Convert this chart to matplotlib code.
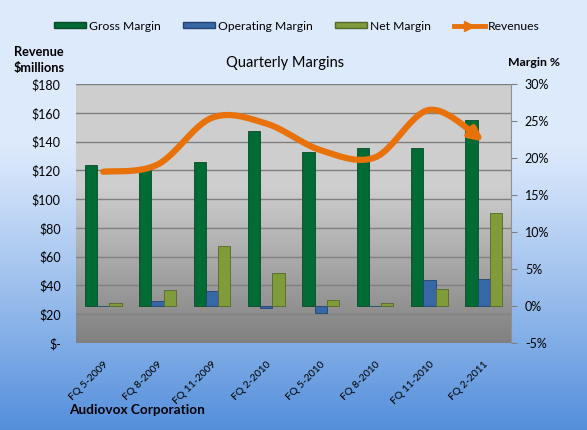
import numpy as np
import matplotlib
matplotlib.use("Agg")
import matplotlib.pyplot as plt
import matplotlib.transforms as mtransforms
from matplotlib.patches import Patch
from matplotlib.lines import Line2D

plt.rcParams['font.family'] = ['Lato', 'DejaVu Sans']

# data
quarters = ['FQ 5-2009', 'FQ 8-2009', 'FQ 11-2009', 'FQ 2-2010',
            'FQ 5-2010', 'FQ 8-2010', 'FQ 11-2010', 'FQ 2-2011']
gross_margin = [19.1, 18.8, 19.4, 23.6, 20.8, 21.3, 21.3, 25.1]
operating_margin = [0.05, 0.65, 2.0, -0.25, -1.0, 0.05, 3.5, 3.6]
net_margin = [0.35, 2.2, 8.1, 4.4, 0.75, 0.45, 2.35, 12.5]
revenues = [119, 124, 156.5, 152.5, 134, 129, 162, 140]

left_ticks = list(range(0, 181, 20))
left_labels = ['$-'] + ['$%d' % v for v in left_ticks[1:]]
right_ticks = list(range(-5, 31, 5))
right_labels = ['%d%%' % v for v in right_ticks]

c_gross = '#006b35'
c_oper = '#3767a5'
c_net = '#7f9b3a'
c_rev = '#e8710a'


def smooth(xs, ys, n=30):
    # Catmull-Rom style bezier, like Excel's smoothed line
    xs = np.asarray(xs, float)
    ys = np.asarray(ys, float)
    px = np.concatenate([[xs[0]], xs, [xs[-1]]])
    py = np.concatenate([[ys[0]], ys, [ys[-1]]])
    outx, outy = [], []
    t = np.linspace(0, 1, n)
    for i in range(1, len(px) - 2):
        p0 = np.array([px[i], py[i]])
        p3 = np.array([px[i + 1], py[i + 1]])
        c1 = p0 + (np.array([px[i + 1], py[i + 1]]) - np.array([px[i - 1], py[i - 1]])) / 6
        c2 = p3 - (np.array([px[i + 2], py[i + 2]]) - np.array([px[i], py[i]])) / 6
        for tt in t:
            b = ((1 - tt) ** 3) * p0 + 3 * ((1 - tt) ** 2) * tt * c1 \
                + 3 * (1 - tt) * tt ** 2 * c2 + tt ** 3 * p3
            outx.append(b[0])
            outy.append(b[1])
    return np.array(outx), np.array(outy)


fig = plt.figure(figsize=(5.87, 4.30), dpi=100)

# figure background gradient
bg = fig.add_axes([0, 0, 1, 1], zorder=-10)
grad = np.linspace(0, 1, 256).reshape(-1, 1)
top_c = np.array([0.87, 0.92, 0.99])
bot_c = np.array([0.33, 0.56, 0.86])
w = np.clip((grad - 0.33) / 0.67, 0, 1) ** 1.1
img = top_c * (1 - w[..., None]) + bot_c * w[..., None]
bg.imshow(img, aspect='auto', extent=[0, 1, 0, 1], origin='upper')
bg.set_xlim(0, 1)
bg.set_ylim(0, 1)
bg.axis('off')

ax = fig.add_axes([0.1295, 0.2023, 0.741, 0.6024])
ax2 = ax.twinx()
ax.set_zorder(2)
ax2.set_zorder(1)
ax.patch.set_visible(False)

# plot area gradient
g = np.linspace(0, 1, 256).reshape(-1, 1)
gw = np.clip((g - 0.4) / 0.6, 0, 1)
gray = 0.81 * (1 - gw) + 0.50 * gw
ax2.imshow(np.repeat(gray[..., None], 3, axis=2), aspect='auto',
           extent=[0, 1, 0, 1], origin='upper', transform=ax2.transAxes, zorder=0)

x = np.arange(len(quarters))
bw = 0.226
ax2.bar(x - bw, gross_margin, bw, color=c_gross, edgecolor='#0b4a26', linewidth=0.6, zorder=3)
ax2.bar(x, operating_margin, bw, color=c_oper, edgecolor='#23446e', linewidth=0.6, zorder=3)
ax2.bar(x + bw, net_margin, bw, color=c_net, edgecolor='#55672a', linewidth=0.6, zorder=3)

# gridlines on left-axis values, drawn behind the bars
trans = mtransforms.blended_transform_factory(ax2.transAxes, ax.transData)
for v in left_ticks[1:]:
    ax2.plot([0, 1], [v, v], color='#808080', lw=1.0, transform=trans, zorder=1)

ax.set_ylim(0, 180)
ax2.set_ylim(-5, 30)
ax.set_xlim(-0.5, len(quarters) - 0.5)

sx, sy = smooth(x, revenues)
ax.plot(sx[:-6], sy[:-6], color=c_rev, lw=4.5, solid_capstyle='round', zorder=5)
ax.annotate('', xy=(sx[-1], sy[-1]), xytext=(sx[-8], sy[-8]),
            arrowprops=dict(arrowstyle='-|>', color=c_rev, lw=4.5,
                            mutation_scale=18, shrinkA=0, shrinkB=0), zorder=6)

ax.set_yticks(left_ticks)
ax.set_yticklabels(left_labels, fontsize=9)
ax2.set_yticks(right_ticks)
ax2.set_yticklabels(right_labels, fontsize=9)
ax.set_xticks(x)
ax.set_xticklabels(quarters, rotation=45, ha='right', va='top',
                   rotation_mode='anchor', fontsize=7.5)
ax.tick_params(axis='x', length=0, pad=12)
ax.tick_params(axis='y', length=0, pad=11)
ax2.tick_params(axis='y', length=4, color='#808080', pad=6)

for s in ax.spines.values():
    s.set_visible(False)
for s in ax2.spines.values():
    s.set_visible(False)
ax2.spines['right'].set_visible(True)
ax2.spines['right'].set_color('#909090')

fig.text(285 / 587, 1 - 63 / 430, 'Quarterly Margins', ha='center', va='center', fontsize=10.5)
fig.text(14 / 587, 1 - 52 / 430, 'Revenue', ha='left', va='center', fontsize=9.2, fontweight='bold')
fig.text(14 / 587, 1 - 68 / 430, '$millions', ha='left', va='center', fontsize=9.2, fontweight='bold')
fig.text(508 / 587, 1 - 63 / 430, 'Margin %', ha='left', va='center', fontsize=8.8, fontweight='bold')
fig.text(69 / 587, 1 - 410 / 430, 'Audiovox Corporation', ha='left', va='center',
         fontsize=9.8, fontweight='bold')

handles = [Patch(facecolor=c_gross, edgecolor='#0b4a26'),
           Patch(facecolor=c_oper, edgecolor='#23446e'),
           Patch(facecolor=c_net, edgecolor='#55672a'),
           Line2D([0], [0], color=c_rev, lw=3.5, marker='>', markevery=[1],
                  markersize=7)]
fig.legend(handles, ['Gross Margin', 'Operating Margin', 'Net Margin', 'Revenues'],
           loc='center', bbox_to_anchor=(297 / 587, 1 - 26 / 430), ncol=4,
           frameon=False, fontsize=8.7, handlelength=2.6, handleheight=0.45,
           handletextpad=0.25, columnspacing=1.9)

fig.savefig('out.png', dpi=100)
